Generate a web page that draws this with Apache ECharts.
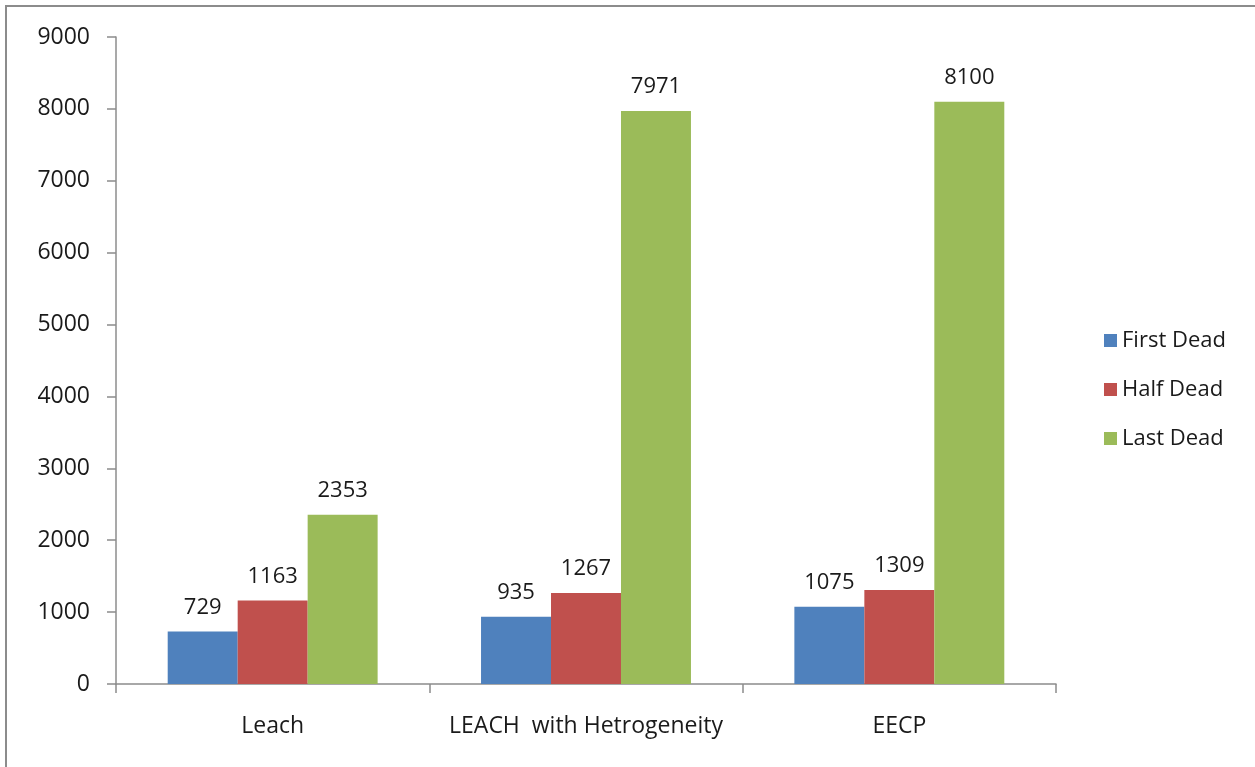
<!DOCTYPE html>
<html>
<head>
<meta charset="utf-8">
<script src="https://cdn.jsdelivr.net/npm/echarts@6/dist/echarts.min.js"></script>
<style>
html,body{margin:0;padding:0;background:#fff;}
#c{width:1255px;height:767px;}
</style>
</head>
<body>
<div id="c"></div>
<script>
var categories = ['Leach', 'LEACH  with Hetrogeneity', 'EECP'];
var firstDead = [729, 935, 1075];
var halfDead = [1163, 1267, 1309];
var lastDead = [2353, 7971, 8100];
var seriesNames = ['First Dead', 'Half Dead', 'Last Dead'];
var yTicks = {min: 0, max: 9000, interval: 1000};

var font = 'Open Sans';
var fs = 23;
var chart = echarts.init(document.getElementById('c'));
function bar(name, data, color) {
  return {
    name: name, type: 'bar', data: data,
    barGap: '0%', barCategoryGap: '33%',
    itemStyle: {color: color},
    label: {show: true, position: 'top', distance: 13, color: '#1a1a1a', fontFamily: font, fontSize: 22},
    emphasis: {disabled: true}
  };
}
chart.setOption({
  animation: false,
  graphic: [{
    type: 'rect', shape: {x: 6, y: 6, width: 1300, height: 800},
    style: {fill: 'none', stroke: '#8c8c8c', lineWidth: 2}, silent: true
  }],
  grid: {left: 116, right: 199, top: 37, bottom: 83, containLabel: false},
  legend: {
    orient: 'vertical', left: 1099, top: 324,
    itemWidth: 13, itemHeight: 13, itemGap: 26,
    icon: 'rect',
    textStyle: {fontFamily: font, fontSize: 22, color: '#1a1a1a', lineHeight: 23},
    data: seriesNames
  },
  xAxis: {
    type: 'category', data: categories,
    axisLine: {lineStyle: {color: '#8c8c8c', width: 1.5}},
    axisTick: {show: true, interval: 0, length: 9, lineStyle: {color: '#8c8c8c', width: 1.5}},
    axisLabel: {interval: 0, fontFamily: font, fontSize: fs, color: '#1a1a1a', margin: 31},
    splitLine: {show: false}
  },
  yAxis: {
    type: 'value', min: yTicks.min, max: yTicks.max, interval: yTicks.interval,
    axisLine: {show: true, lineStyle: {color: '#8c8c8c', width: 1.5}},
    axisTick: {show: true, length: 9, lineStyle: {color: '#8c8c8c', width: 1.5}},
    axisLabel: {fontFamily: font, fontSize: fs, color: '#1a1a1a', margin: 26,
      formatter: function (v) { return String(v); }},
    splitLine: {show: false}
  },
  series: [
    bar(seriesNames[0], firstDead, '#4F81BD'),
    bar(seriesNames[1], halfDead, '#C0504D'),
    bar(seriesNames[2], lastDead, '#9BBB59')
  ]
});
</script>
</body>
</html>
